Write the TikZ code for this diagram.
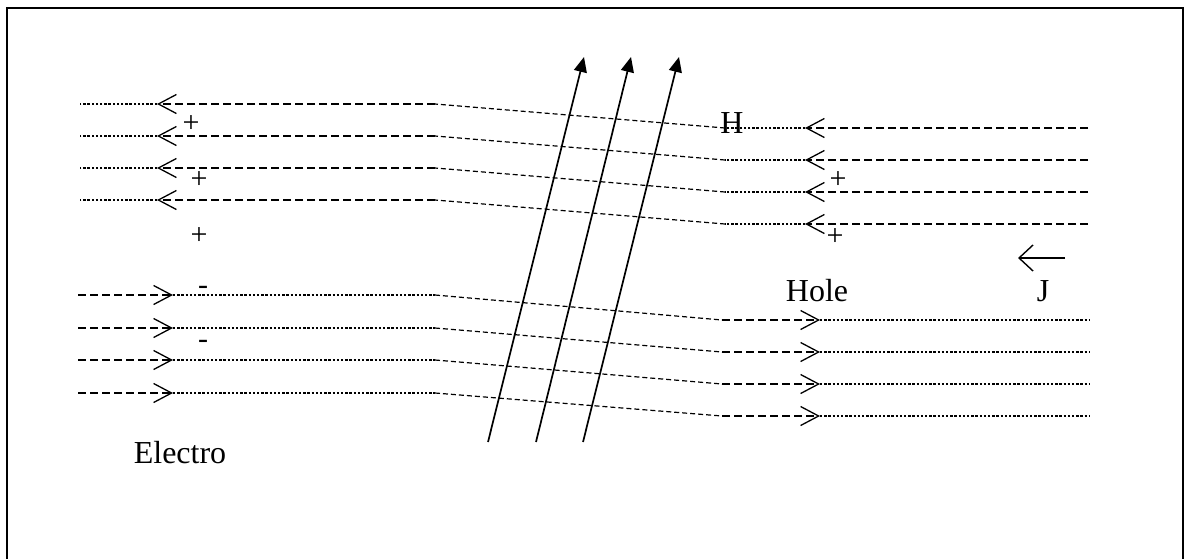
\documentclass[tikz,border=0pt]{standalone}
\usepackage{fontspec}
\setmainfont{Liberation Serif}
\usetikzlibrary{arrows.meta}

\begin{document}
\begin{tikzpicture}[
    x=0.5pt, y=-0.5pt,
    fine/.style={line width=0.6pt, dash pattern=on 1.2pt off 0.9pt},
    longdash/.style={line width=0.6pt, dash pattern=on 4pt off 2pt},
    slant/.style={line width=0.6pt, dash pattern=on 2.5pt off 1.5pt},
    chev/.style={-{Straight Barb[length=9pt, width=9.5pt, line width=0.65pt]}},
    field/.style={line width=0.85pt, -{Triangle[length=7.5pt, width=6.5pt]}},
    big/.style={font=\fontsize{16}{19}\selectfont, inner sep=0pt},
    sign/.style={font=\fontsize{15}{17}\selectfont, inner sep=0pt}
  ]
    \useasboundingbox (0,0) rectangle (1184,558);
    % Frame (bottom edge lies outside the page)
    \draw[line width=1pt] (6.5,560) -- (6.5,7.5) -- (1182.5,7.5) -- (1182.5,560);

    % Upper lines: holes drifting left
    \foreach \ya/\yb in {104/128, 136/160, 168/192, 200/224} {
      \draw[longdash, chev] (1088,\yb) -- (805,\yb);
      \draw[fine] (805,\yb) -- (725,\yb);
      \draw[slant] (725,\yb) -- (435,\ya);
      \draw[longdash, chev] (435,\ya) -- (157,\ya);
      \draw[fine] (157,\ya) -- (80,\ya);
    }

    % Lower lines: electrons drifting right
    \foreach \ya/\yb in {295/320, 328/352, 360/384, 393/416} {
      \draw[longdash, chev] (78,\ya) -- (173,\ya);
      \draw[fine] (173,\ya) -- (435,\ya);
      \draw[slant] (435,\ya) -- (722,\yb);
      \draw[longdash, chev] (722,\yb) -- (820,\yb);
      \draw[fine] (820,\yb) -- (1090,\yb);
    }

    % Magnetic field
    \coordinate (h1s) at (488,442); \coordinate (h1e) at (584,57);
    \coordinate (h2s) at (536,442); \coordinate (h2e) at (631,57);
    \coordinate (h3s) at (583,442); \coordinate (h3e) at (679,57);
    \draw[field] (h1s) -- (h1e);
    \draw[field] (h2s) -- (h2e);
    \draw[field] (h3s) -- (h3e);
    \node[big] (hlabel) at (732,123) {H};

    % Charges
    \node[sign] (p1) at (191,124) {+};
    \node[sign] (p2) at (199,180) {+};
    \node[sign] (p3) at (199,236) {+};
    \node[sign] (m1) at (203,290) {-};
    \node[sign] (m2) at (203,344) {-};
    \node[sign] (p4) at (838,180) {+};
    \node[sign] (p5) at (835,237) {+};

    % Labels
    \node[big] (hole) at (817,291) {Hole};
    \node[big] (jlabel) at (1043,291) {J};
    \node[big] (electro) at (180,453) {Electro};

    % Current direction
    \coordinate (jtail) at (1065,258);
    \coordinate (jhead) at (1018,258);
    \draw[line width=0.7pt, -{Straight Barb[length=7pt, width=13pt, line width=0.7pt]}] (jtail) -- (jhead);
  \end{tikzpicture}
\end{document}
